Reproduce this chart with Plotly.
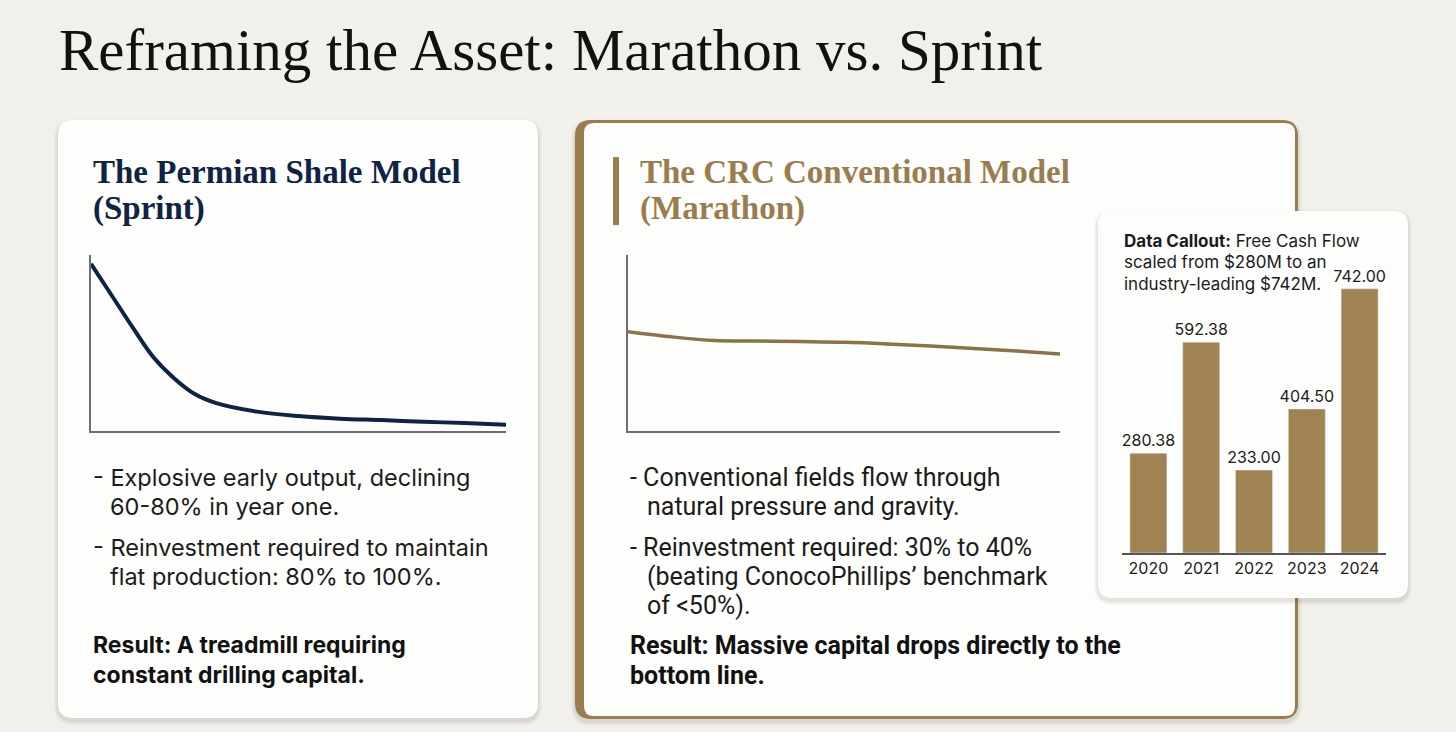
import plotly.graph_objects as go

W, H = 1456, 732

## data
shale_t = [0, 0.5, 1, 1.5, 2, 2.5, 3, 4, 5, 6, 7, 8, 9, 10]
shale_prod = [95, 77, 59, 42, 30, 21, 16, 11, 8.5, 7, 6.2, 5.3, 4.5, 3.6]

conv_t = [0, 1, 2, 3, 4, 5, 6, 7, 8, 9, 10]
conv_prod = [56.4, 53.5, 51.4, 51.1, 50.8, 50.4, 49.5, 48.3, 46.9, 45.4, 43.8]

years = ['2020', '2021', '2022', '2023', '2024']
fcf = [280.38, 592.38, 233.00, 404.50, 742.00]

title = 'Reframing the Asset: Marathon vs. Sprint'
shale_title = ['The Permian Shale Model', '(Sprint)']
conv_title = ['The CRC Conventional Model', '(Marathon)']
shale_bullets = ['- Explosive early output, declining', '60-80% in year one.',
                 '- Reinvestment required to maintain', 'flat production: 80% to 100%.']
shale_result = ['Result: A treadmill requiring', 'constant drilling capital.']
conv_bullets = ['- Conventional fields flow through', 'natural pressure and gravity.',
                '- Reinvestment required: 30% to 40%', "(beating ConocoPhillips\u2019 benchmark",
                'of <50%).']
conv_result = ['Result: Massive capital drops directly to the', 'bottom line.']
callout = ['<b>Data Callout:</b> Free Cash Flow', 'scaled from $280M to an',
           'industry-leading $742M.']

BG = '#f1f0eb'
CARD = '#fdfdfc'
NAVY = '#0f2344'
GOLD = '#9a7d4e'
LINE_GOLD = '#8c7347'
BAR = '#a08352'
INK = '#1b1b1b'


def px(x):
    return x / W


def py(y):
    return 1 - y / H


## rounded rectangle as svg path in paper coords (input in pixels)
def rrect(x0, y0, x1, y1, r):
    def p(x, y):
        return f'{px(x):.5f},{py(y):.5f}'
    return (f'M {p(x0 + r, y0)} L {p(x1 - r, y0)} Q {p(x1, y0)} {p(x1, y0 + r)} '
            f'L {p(x1, y1 - r)} Q {p(x1, y1)} {p(x1 - r, y1)} L {p(x0 + r, y1)} '
            f'Q {p(x0, y1)} {p(x0, y1 - r)} L {p(x0, y0 + r)} Q {p(x0, y0)} {p(x0 + r, y0)} Z')


def card(x0, y0, x1, y1, r, fill):
    out = []
    for i, a in enumerate([0.025, 0.03, 0.035, 0.04]):
        g = 8 - 2 * i
        out.append(dict(type='path', xref='paper', yref='paper', layer='below',
                        path=rrect(x0 - g / 2, y0 - g / 2 + 3, x1 + g / 2, y1 + g / 2 + 3, r + g / 2),
                        fillcolor=f'rgba(70,60,40,{a})', line=dict(width=0)))
    out.append(dict(type='path', xref='paper', yref='paper', layer='below',
                    path=rrect(x0, y0, x1, y1, r), fillcolor=fill, line=dict(width=0)))
    return out


def text(x, y, s, size, color=INK, family='Inter', anchor='left'):
    return dict(x=px(x), y=py(y), xref='paper', yref='paper', text=s, showarrow=False,
                xanchor=anchor, yanchor='middle', align='left',
                font=dict(family=family, size=size, color=color))


fig = go.Figure()

fig.add_trace(go.Scatter(x=shale_t, y=shale_prod, mode='lines', line_shape='spline',
                         line=dict(color=NAVY, width=4), xaxis='x', yaxis='y',
                         cliponaxis=False, hoverinfo='skip'))
fig.add_trace(go.Scatter(x=conv_t, y=conv_prod, mode='lines', line_shape='spline',
                         line=dict(color=LINE_GOLD, width=3.5), xaxis='x2', yaxis='y2',
                         cliponaxis=False, hoverinfo='skip'))
fig.add_trace(go.Bar(x=years, y=fcf, marker_color=BAR, xaxis='x3', yaxis='y3',
                     text=[f'{v:.2f}' for v in fcf], textposition='outside',
                     constraintext='none',
                     textfont=dict(family='Inter', size=16, color=INK),
                     cliponaxis=False, hoverinfo='skip'))

shapes = []
shapes += card(58, 120, 538, 718, 15, CARD)
# middle card: gold frame, thick left edge
shapes += card(575, 120, 1298, 719, 16, GOLD)
shapes.append(dict(type='path', xref='paper', yref='paper', layer='below',
                   path=rrect(584, 123, 1295, 716, 10), fillcolor=CARD, line=dict(width=0)))
shapes.append(dict(type='rect', xref='paper', yref='paper', layer='below',
                   x0=px(613), x1=px(619), y0=py(225), y1=py(157),
                   fillcolor=GOLD, line=dict(width=0)))
shapes += card(1098, 211, 1408, 598, 14, CARD)

ann = [text(57, 50, title, 59, '#111111', 'Liberation Serif')]
ann += [text(91, 172, '<b>' + shale_title[0] + '</b>', 33, NAVY, 'Liberation Serif'),
        text(91, 209, '<b>' + shale_title[1] + '</b>', 33, NAVY, 'Liberation Serif')]
ann += [text(638, 172, '<b>' + conv_title[0] + '</b>', 33, GOLD, 'Liberation Serif'),
        text(638, 209, '<b>' + conv_title[1] + '</b>', 33, GOLD, 'Liberation Serif')]

for s, x, y in zip(shale_bullets, [91, 108, 91, 108], [477, 506, 547, 576]):
    ann.append(text(x, y, s, 23.5))
for s, y in zip(shale_result, [645, 675]):
    ann.append(text(91, y, '<b>' + s + '</b>', 23, '#111111'))

for s, x, y in zip(conv_bullets, [628, 645, 628, 645, 645], [477, 506, 547, 576, 605]):
    ann.append(text(x, y, s, 25, family='Roboto'))
for s, y in zip(conv_result, [645, 675]):
    ann.append(text(628, y, '<b>' + s + '</b>', 25, '#111111', 'Roboto'))

for s, y in zip(callout, [241, 262, 284]):
    ann.append(text(1122, y, s, 17))

axis_style = dict(showline=True, linecolor='#6e6e6e', linewidth=1.5, showgrid=False,
                  zeroline=False, showticklabels=False, ticks='', fixedrange=True)

fig.update_layout(
    width=W, height=H, margin=dict(l=0, r=0, t=0, b=0),
    paper_bgcolor=BG, plot_bgcolor='rgba(0,0,0,0)', showlegend=False,
    shapes=shapes, annotations=ann, bargap=0.3,
    xaxis=dict(domain=[px(91), px(506)], range=[0, 10], anchor='y', **axis_style),
    yaxis=dict(domain=[py(431), py(255)], range=[0, 100], anchor='x', **axis_style),
    xaxis2=dict(domain=[px(628), px(1060)], range=[0, 10], anchor='y2', **axis_style),
    yaxis2=dict(domain=[py(431), py(255)], range=[0, 100], anchor='x2', **axis_style),
    xaxis3=dict(domain=[px(1122), px(1386)], anchor='y3', type='category',
                showline=True, linecolor='#555555', linewidth=2, showgrid=False,
                ticks='', fixedrange=True, tickfont=dict(family='Inter', size=16, color=INK)),
    yaxis3=dict(domain=[py(553), py(270)], range=[0, 795], anchor='x3', visible=False,
                fixedrange=True),
)

# page body has a default margin; drop it so the figure fills the window
fig.write_html('out.html', config={'displayModeBar': False},
               post_script="document.body.style.margin='0';")
